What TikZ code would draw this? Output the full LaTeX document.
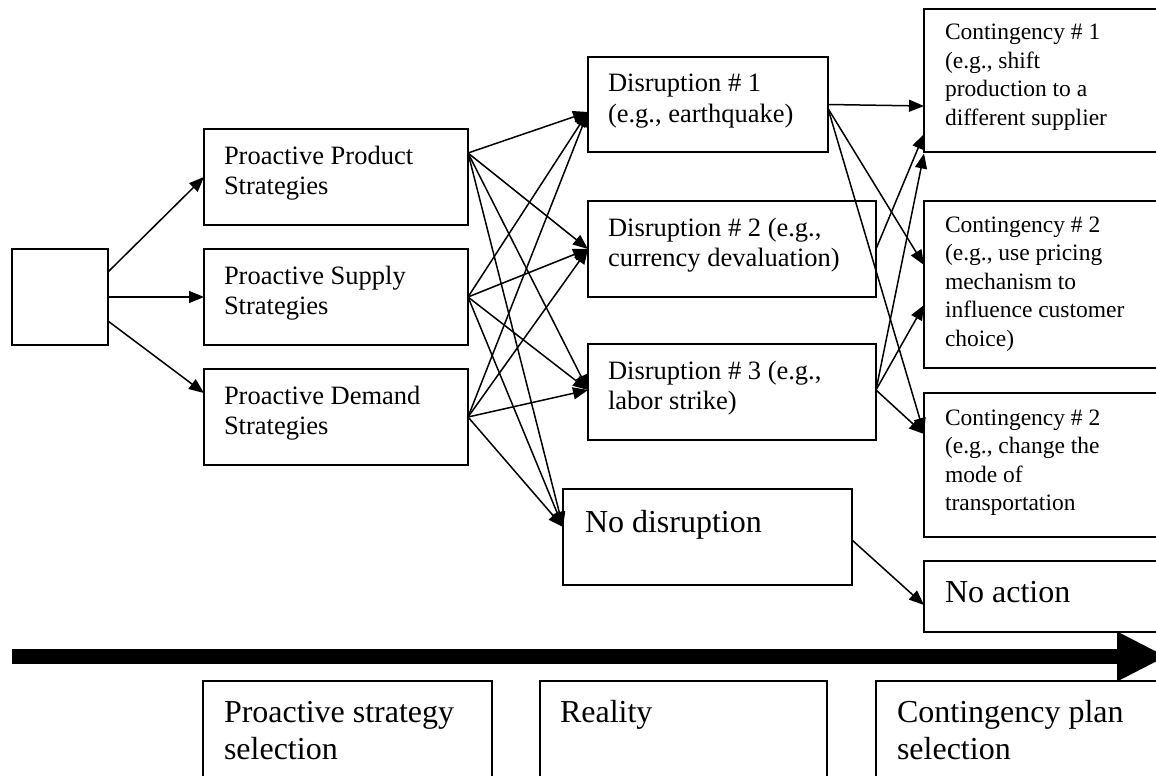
\documentclass[tikz,border=0pt]{standalone}
\usepackage{fontspec}
\setmainfont{Liberation Serif}
\usetikzlibrary{arrows.meta}

\newcommand{\bxt}[5]{\begin{minipage}[t][#2][t]{#1}\raggedright\setlength{\leftskip}{#4}\rule{0pt}{#3}#5\end{minipage}}

\tikzset{
  box/.style={draw, line width=2pt, anchor=north west, inner sep=0pt, outer sep=0pt},
  midtxt/.style={font=\fontsize{26.5pt}{30.5pt}\selectfont},
  smalltxt/.style={font=\fontsize{23.5pt}{28.5pt}\selectfont},
  bigtxt/.style={font=\fontsize{32pt}{37pt}\selectfont},
  conn/.style={line width=1.5pt, -{Triangle[length=15pt,width=12pt]}},
  timeline/.style={line width=15pt, -{Triangle[length=50pt,width=46pt]}}
}

\begin{document}
\begin{tikzpicture}[x=1pt,y=-1pt]
\useasboundingbox (0,0) rectangle (1156,776);
\clip (0,0) rectangle (1156,776);

% start box
\node[box, minimum width=96pt, minimum height=96pt] (e0) at (12,249) {};

% proactive strategies
\node[box,midtxt] (prod) at (204,129) {\bxt{264pt}{96pt}{35pt}{20pt}{Proactive Product\\Strategies}};
\node[box,midtxt] (sup)  at (204,249) {\bxt{264pt}{96pt}{35pt}{20pt}{Proactive Supply\\Strategies}};
\node[box,midtxt] (dem)  at (204,369) {\bxt{264pt}{96pt}{35pt}{20pt}{Proactive Demand\\Strategies}};

% disruptions
\node[box,midtxt] (d1) at (588,57)  {\bxt{240pt}{95pt}{35pt}{20pt}{Disruption \# 1\\(e.g., earthquake)}};
\node[box,midtxt] (d2) at (588,201) {\bxt{288pt}{96pt}{35pt}{20pt}{Disruption \# 2 (e.g.,\\currency devaluation)}};
\node[box,midtxt] (d3) at (588,344) {\bxt{288pt}{96pt}{35pt}{20pt}{Disruption \# 3 (e.g.,\\labor strike)}};
\node[box,bigtxt] (nd) at (563,489) {\bxt{289pt}{96pt}{43pt}{22pt}{No disruption}};

% contingencies
\node[box,smalltxt] (c1) at (924,9)   {\bxt{260pt}{143pt}{31pt}{21pt}{Contingency \# 1\\(e.g., shift\\production to a\\different supplier}};
\node[box,smalltxt] (c2) at (924,201) {\bxt{260pt}{167pt}{31pt}{21pt}{Contingency \# 2\\(e.g., use pricing\\mechanism to\\influence customer\\choice)}};
\node[box,smalltxt] (c3) at (924,393) {\bxt{260pt}{144pt}{32pt}{21pt}{Contingency \# 2\\(e.g., change the\\mode of\\transportation}};
\node[box,bigtxt] (na) at (924,561) {\bxt{260pt}{71pt}{41pt}{21pt}{No action}};

% stage labels
\node[box,bigtxt] (b1) at (203,681) {\bxt{289pt}{110pt}{41pt}{21pt}{Proactive strategy\\selection}};
\node[box,bigtxt] (b2) at (540,681) {\bxt{287pt}{110pt}{41pt}{20pt}{Reality}};
\node[box,bigtxt] (b3) at (876,681) {\bxt{310pt}{110pt}{41pt}{21pt}{Contingency plan\\selection}};

% timeline
\coordinate (t0) at (12,656.5);
\coordinate (t1) at (1167,656.5);
\draw[timeline] (t0) -- (t1);

% start -> strategies
\draw[conn] ([yshift=25pt]e0.east) -- (prod.west);
\draw[conn] (e0.east) -- (sup.west);
\draw[conn] ([yshift=-24pt]e0.east) -- ([yshift=24pt]dem.west);

% strategies -> disruptions
\draw[conn] ([yshift=24pt]prod.east) -- ([yshift=-7.5pt]d1.west);
\draw[conn] ([yshift=24pt]prod.east) -- (d2.west);
\draw[conn] ([yshift=24pt]prod.east) -- ([yshift=2pt]d3.west);
\draw[conn] ([yshift=24pt]prod.east) -- ([yshift=10pt]nd.west);
\draw[conn] (sup.east) -- ([yshift=-7.5pt]d1.west);
\draw[conn] (sup.east) -- (d2.west);
\draw[conn] (sup.east) -- ([yshift=2pt]d3.west);
\draw[conn] (sup.east) -- ([yshift=10pt]nd.west);
\draw[conn] (dem.east) -- ([yshift=-7.5pt]d1.west);
\draw[conn] (dem.east) -- (d2.west);
\draw[conn] (dem.east) -- ([yshift=2pt]d3.west);
\draw[conn] (dem.east) -- ([yshift=10pt]nd.west);

% disruptions -> contingencies
\draw[conn] (d1.east) -- ([yshift=-25.5pt]c1.west);
\draw[conn] ([yshift=-4pt]d1.east) -- ([yshift=19.5pt]c2.west);
\draw[conn] ([yshift=-4pt]d1.east) -- ([yshift=32pt]c3.west);
\draw[conn] (d2.east) -- ([yshift=-53.5pt]c1.west);
\draw[conn] ([yshift=2pt]d3.east) -- ([yshift=-73pt]c1.west);
\draw[conn] ([yshift=2pt]d3.east) -- ([yshift=-20.5pt]c2.west);
\draw[conn] ([yshift=2pt]d3.east) -- ([yshift=31pt]c3.west);
\draw[conn] ([yshift=-3pt]nd.east) -- ([yshift=-8.5pt]na.west);
\end{tikzpicture}
\end{document}
